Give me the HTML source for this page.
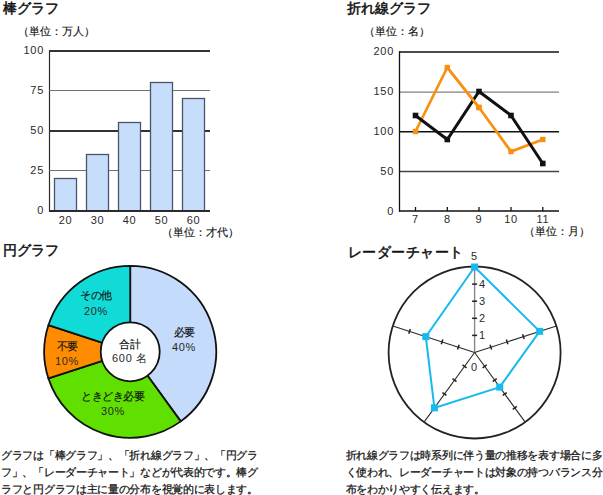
<!DOCTYPE html>
<html><head><meta charset="utf-8">
<style>
html,body{margin:0;padding:0;background:#fff;}
body{width:603px;height:495px;position:relative;overflow:hidden;font-family:"Liberation Sans",sans-serif;color:#111;}
.t{position:absolute;white-space:nowrap;line-height:1;}
.h{font-size:14px;-webkit-text-stroke:0.5px #111;}
.s{font-size:10.667px;-webkit-text-stroke:0.15px #111;}
.n{font-size:11px;letter-spacing:0.7px;color:#2a2a2a;}
.pl{letter-spacing:-0.5px;}
.r{text-align:right;width:30px;}
.c{text-align:center;width:60px;}
.p{font-size:10.667px;-webkit-text-stroke:0.25px #111;letter-spacing:-0.3px;line-height:17.3px;position:absolute;white-space:nowrap;}
svg{position:absolute;left:0;top:0;}
</style></head><body>
<svg width="603" height="495" viewBox="0 0 603 495">
<line x1="49.5" y1="50" x2="49.5" y2="211.5" stroke="#2a2a2a" stroke-width="1.2"/>
<line x1="49" y1="51" x2="210" y2="51" stroke="#333" stroke-width="2"/>
<line x1="49" y1="90.5" x2="210" y2="90.5" stroke="#707070" stroke-width="1"/>
<line x1="49" y1="131" x2="210" y2="131" stroke="#333" stroke-width="2"/>
<line x1="49" y1="170.5" x2="210" y2="170.5" stroke="#707070" stroke-width="1"/>
<rect x="54.5" y="178.5" width="22" height="32.5" fill="#c6defc" stroke="#4a5566" stroke-width="1.3"/>
<rect x="86.5" y="154.5" width="22" height="56.5" fill="#c6defc" stroke="#4a5566" stroke-width="1.3"/>
<rect x="118.5" y="122.5" width="22" height="88.5" fill="#c6defc" stroke="#4a5566" stroke-width="1.3"/>
<rect x="150.5" y="82.5" width="22" height="128.5" fill="#c6defc" stroke="#4a5566" stroke-width="1.3"/>
<rect x="182.5" y="98.5" width="22" height="112.5" fill="#c6defc" stroke="#4a5566" stroke-width="1.3"/>
<line x1="49" y1="211" x2="210" y2="211" stroke="#2a2a2a" stroke-width="2"/>
<line x1="399" y1="52" x2="559" y2="52" stroke="#111" stroke-width="1.5"/>
<line x1="399" y1="92.1" x2="559" y2="92.1" stroke="#808080" stroke-width="1.4"/>
<line x1="399" y1="131.75" x2="559" y2="131.75" stroke="#111" stroke-width="1.5"/>
<line x1="399" y1="171.5" x2="559" y2="171.5" stroke="#444" stroke-width="1.3"/>
<line x1="399.5" y1="51.25" x2="399.5" y2="211.75" stroke="#111" stroke-width="1.3"/>
<line x1="399" y1="211" x2="559" y2="211" stroke="#111" stroke-width="1.5"/>
<line x1="415.5" y1="207" x2="415.5" y2="211" stroke="#111" stroke-width="1.3"/>
<line x1="447.3" y1="207" x2="447.3" y2="211" stroke="#111" stroke-width="1.3"/>
<line x1="479" y1="207" x2="479" y2="211" stroke="#111" stroke-width="1.3"/>
<line x1="511" y1="207" x2="511" y2="211" stroke="#111" stroke-width="1.3"/>
<line x1="542.8" y1="207" x2="542.8" y2="211" stroke="#111" stroke-width="1.3"/>
<polyline points="415.5,131.5 447.3,67.5 479,107.5 511,151.5 542.8,139.5" fill="none" stroke="#f89010" stroke-width="2.7" stroke-linejoin="miter"/>
<rect x="412.8" y="128.8" width="5.4" height="5.4" fill="#f89010"/>
<rect x="444.6" y="64.8" width="5.4" height="5.4" fill="#f89010"/>
<rect x="476.3" y="104.8" width="5.4" height="5.4" fill="#f89010"/>
<rect x="508.3" y="148.8" width="5.4" height="5.4" fill="#f89010"/>
<rect x="540.0999999999999" y="136.8" width="5.4" height="5.4" fill="#f89010"/>
<polyline points="415.5,115.5 447.3,139.5 479,91.5 511,115.5 542.8,163.5" fill="none" stroke="#111" stroke-width="3" stroke-linejoin="miter"/>
<rect x="412.7" y="112.7" width="5.6" height="5.6" fill="#111"/>
<rect x="444.5" y="136.7" width="5.6" height="5.6" fill="#111"/>
<rect x="476.2" y="88.7" width="5.6" height="5.6" fill="#111"/>
<rect x="508.2" y="112.7" width="5.6" height="5.6" fill="#111"/>
<rect x="540.0" y="160.7" width="5.6" height="5.6" fill="#111"/>
<line x1="447.3" y1="67.5" x2="479" y2="107.5" stroke="#f89010" stroke-width="2.7"/>
<rect x="476.3" y="104.8" width="5.4" height="5.4" fill="#f89010"/>
<path d="M130.2,351.8 L130.20,265.80 A86,86 0 0 1 180.75,421.38 Z" fill="#c4dbfb" stroke="#111" stroke-width="1.8" stroke-linejoin="round"/>
<path d="M130.2,351.8 L180.75,421.38 A86,86 0 0 1 48.41,378.38 Z" fill="#5fe000" stroke="#111" stroke-width="1.8" stroke-linejoin="round"/>
<path d="M130.2,351.8 L48.41,378.38 A86,86 0 0 1 48.41,325.22 Z" fill="#ff8c00" stroke="#111" stroke-width="1.8" stroke-linejoin="round"/>
<path d="M130.2,351.8 L48.41,325.22 A86,86 0 0 1 130.20,265.80 Z" fill="#10dbd6" stroke="#111" stroke-width="1.8" stroke-linejoin="round"/>
<circle cx="130.2" cy="351.8" r="29.5" fill="#fff" stroke="#111" stroke-width="1.8"/>
<circle cx="474.6" cy="352.5" r="86" fill="none" stroke="#222" stroke-width="1.8"/>
<line x1="474.6" y1="352.5" x2="474.60" y2="266.50" stroke="#888" stroke-width="1.4"/>
<line x1="472.10" y1="335.40" x2="477.10" y2="335.40" stroke="#222" stroke-width="1.5"/>
<line x1="472.10" y1="318.30" x2="477.10" y2="318.30" stroke="#222" stroke-width="1.5"/>
<line x1="472.10" y1="301.20" x2="477.10" y2="301.20" stroke="#222" stroke-width="1.5"/>
<line x1="472.10" y1="284.10" x2="477.10" y2="284.10" stroke="#222" stroke-width="1.5"/>
<line x1="474.6" y1="352.5" x2="556.39" y2="325.92" stroke="#2a2a2a" stroke-width="1.1"/>
<line x1="490.09" y1="344.84" x2="491.64" y2="349.59" stroke="#222" stroke-width="1.5"/>
<line x1="506.35" y1="339.55" x2="507.90" y2="344.31" stroke="#222" stroke-width="1.5"/>
<line x1="522.62" y1="334.27" x2="524.16" y2="339.03" stroke="#222" stroke-width="1.5"/>
<line x1="538.88" y1="328.99" x2="540.42" y2="333.74" stroke="#222" stroke-width="1.5"/>
<line x1="474.6" y1="352.5" x2="525.15" y2="422.08" stroke="#2a2a2a" stroke-width="1.1"/>
<line x1="486.67" y1="364.86" x2="482.63" y2="367.80" stroke="#222" stroke-width="1.5"/>
<line x1="496.72" y1="378.70" x2="492.68" y2="381.64" stroke="#222" stroke-width="1.5"/>
<line x1="506.78" y1="392.53" x2="502.73" y2="395.47" stroke="#222" stroke-width="1.5"/>
<line x1="516.83" y1="406.37" x2="512.78" y2="409.31" stroke="#222" stroke-width="1.5"/>
<line x1="474.6" y1="352.5" x2="424.05" y2="422.08" stroke="#2a2a2a" stroke-width="1.1"/>
<line x1="466.57" y1="367.80" x2="462.53" y2="364.86" stroke="#222" stroke-width="1.5"/>
<line x1="456.52" y1="381.64" x2="452.48" y2="378.70" stroke="#222" stroke-width="1.5"/>
<line x1="446.47" y1="395.47" x2="442.42" y2="392.53" stroke="#222" stroke-width="1.5"/>
<line x1="436.42" y1="409.31" x2="432.37" y2="406.37" stroke="#222" stroke-width="1.5"/>
<line x1="474.6" y1="352.5" x2="392.81" y2="325.92" stroke="#2a2a2a" stroke-width="1.1"/>
<line x1="457.56" y1="349.59" x2="459.11" y2="344.84" stroke="#222" stroke-width="1.5"/>
<line x1="441.30" y1="344.31" x2="442.85" y2="339.55" stroke="#222" stroke-width="1.5"/>
<line x1="425.04" y1="339.03" x2="426.58" y2="334.27" stroke="#222" stroke-width="1.5"/>
<line x1="408.78" y1="333.74" x2="410.32" y2="328.99" stroke="#222" stroke-width="1.5"/>
<polygon points="474.60,267.00 539.65,331.36 499.73,387.09 434.40,407.84 425.81,336.65" fill="none" stroke="#18b9ee" stroke-width="2"/>
<rect x="471.10" y="263.50" width="7" height="7" fill="#18b9ee"/>
<rect x="536.15" y="327.86" width="7" height="7" fill="#18b9ee"/>
<rect x="496.23" y="383.59" width="7" height="7" fill="#18b9ee"/>
<rect x="430.90" y="404.34" width="7" height="7" fill="#18b9ee"/>
<rect x="422.31" y="333.15" width="7" height="7" fill="#18b9ee"/>
</svg>
<div class="t h" style="left:3px;top:1px">棒グラフ</div>
<div class="t s" style="left:17.5px;top:26px">（単位：万人）</div>
<div class="t n r" style="left:14px;top:45px">100</div>
<div class="t n r" style="left:14px;top:85px">75</div>
<div class="t n r" style="left:14px;top:125px">50</div>
<div class="t n r" style="left:14px;top:165px">25</div>
<div class="t n r" style="left:14px;top:205px">0</div>
<div class="t n c" style="left:35.5px;top:215px">20</div>
<div class="t n c" style="left:67.5px;top:215px">30</div>
<div class="t n c" style="left:99.5px;top:215px">40</div>
<div class="t n c" style="left:131.5px;top:215px">50</div>
<div class="t n c" style="left:163.5px;top:215px">60</div>
<div class="t s" style="left:161.5px;top:227px">（単位：才代）</div>

<div class="t h" style="left:347px;top:1px">折れ線グラフ</div>
<div class="t s" style="left:363.5px;top:26px">（単位：名）</div>
<div class="t n r" style="left:364px;top:46px">200</div>
<div class="t n r" style="left:364px;top:86px">150</div>
<div class="t n r" style="left:364px;top:126px">100</div>
<div class="t n r" style="left:364px;top:166px">50</div>
<div class="t n r" style="left:364px;top:206px">0</div>
<div class="t n c" style="left:385.5px;top:214px">7</div>
<div class="t n c" style="left:417.3px;top:214px">8</div>
<div class="t n c" style="left:449px;top:214px">9</div>
<div class="t n c" style="left:481px;top:214px">10</div>
<div class="t n c" style="left:512.8px;top:214px">11</div>
<div class="t s" style="left:523.5px;top:226px">（単位：月）</div>

<div class="t h" style="left:3px;top:243px">円グラフ</div>
<div class="t s c pl" style="left:66px;top:290px">その他</div>
<div class="t n c" style="left:66px;top:306px">20%</div>
<div class="t s c pl" style="left:37px;top:341px">不要</div>
<div class="t n c" style="left:37px;top:356px">10%</div>
<div class="t s c pl" style="left:154px;top:327px">必要</div>
<div class="t n c" style="left:154px;top:342px">40%</div>
<div class="t s c pl" style="left:81px;top:390.5px">ときどき必要</div>
<div class="t n c" style="left:83px;top:406px">30%</div>
<div class="t s c" style="left:100px;top:338.5px">合計</div>
<div class="t n c" style="left:100px;top:352.5px">600 名</div>

<div class="t h" style="left:347.5px;top:245px;letter-spacing:0.5px">レーダーチャート</div>
<div class="t n" style="left:471px;top:251px">5</div>
<div class="t n" style="left:479px;top:279px">4</div>
<div class="t n" style="left:479px;top:296px">3</div>
<div class="t n" style="left:479px;top:313px">2</div>
<div class="t n" style="left:479px;top:330px">1</div>
<div class="t n" style="left:471px;top:362px">0</div>

<div class="p" style="left:1px;top:446.5px">グラフは「棒グラフ」、「折れ線グラフ」、「円グラ<br>フ」、「レーダーチャート」などが代表的です。棒グ<br>ラフと円グラフは主に量の分布を視覚的に表します。</div>
<div class="p" style="left:345.5px;top:446.5px">折れ線グラフは時系列に伴う量の推移を表す場合に多<br>く使われ、レーダーチャートは対象の持つバランス分<br>布をわかりやすく伝えます。</div>
</body></html>
